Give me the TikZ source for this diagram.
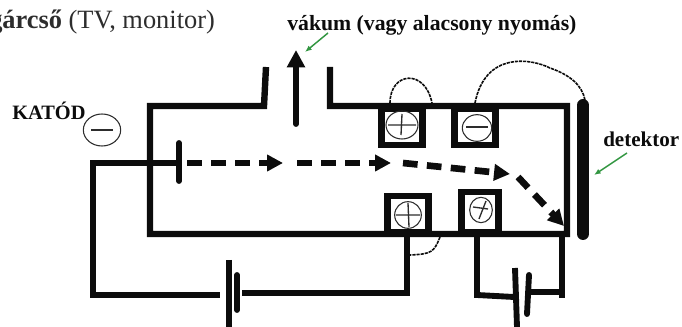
\documentclass[tikz,border=0pt]{standalone}
\usepackage{fontspec}
\setmainfont{Liberation Serif}
\usetikzlibrary{arrows.meta,shapes.geometric}
\definecolor{wgreen}{RGB}{50,150,65}
\definecolor{ink}{RGB}{12,12,12}
\definecolor{soft}{RGB}{45,45,45}
\tikzset{
  x=0.75pt,y=-0.75pt,
  wire/.style={draw=ink,line width=4.4pt,line join=miter},
  tube/.style={draw=ink,line width=4.8pt,line join=miter},
  plate/.style={draw=ink,line width=4.4pt,line cap=round},
  termbox/.style={draw=ink,line width=4.8pt,fill=white,minimum width=31pt,minimum height=27pt,inner sep=0pt,outer sep=0pt},
  sign/.style={draw=soft,line width=0.8pt,ellipse,inner sep=0pt,outer sep=0pt},
  beam/.style={draw=ink,line width=5pt,dash pattern=on 11pt off 7pt,-{Triangle[length=12pt,width=12pt,fill=ink,sep=0pt]}},
  jump/.style={draw=ink,line width=1.2pt,dash pattern=on 2.4pt off 0.7pt},
  pointer/.style={draw=wgreen,line width=1.1pt,-{Latex[length=5pt,width=4pt]}},
  lab/.style={text=ink,inner sep=0pt},
}
\begin{document}
\begin{tikzpicture}
\useasboundingbox (0,0) rectangle (682,327);
% title
\node[anchor=base west,inner sep=0pt,font=\fontsize{19.8pt}{22pt}\selectfont,text=soft] (title) at (-11,29) {\textbf{gárcső} (TV, monitor)};
\node[lab,anchor=base west,font=\bfseries\fontsize{16.3pt}{18pt}\selectfont] (vak) at (287,31) {vákum (vagy alacsony nyomás)};
\node[lab,anchor=base west,font=\bfseries\fontsize{15.3pt}{18pt}\selectfont] (kat) at (12,120) {KATÓD};
\node[lab,anchor=base west,font=\bfseries\fontsize{15.8pt}{18pt}\selectfont] (det) at (603,147) {detektor};
\node[sign,minimum width=28pt,minimum height=24pt] (katsign) at (102,130) {};
\draw[soft,line width=1pt] (katsign.center)+(-11,0) -- +(11,0);
% tube
\draw[tube] (266,67) -- (264,106) -- (150,106) -- (150,234) -- (567,234) -- (567,106) -- (330,106) -- (330,67);
% terminals
\node[termbox] (b1) at (402,127) {};
\node[termbox] (b2) at (475,127) {};
\node[termbox] (b3) at (408,214) {};
\node[termbox,minimum width=28pt,minimum height=30pt] (b4) at (480,212) {};
\node[sign,minimum width=24pt,minimum height=21pt] (s1) at (402,125) {};
\draw[soft,line width=1pt] (s1.center)+(-14,0) -- +(14,0) (s1.center)+(0,-11) -- +(-1,10);
\node[sign,minimum width=22pt,minimum height=20pt] (s2) at (477,128) {};
\draw[soft,line width=1pt] (s2.center)+(-11,-1) -- +(11,-1);
\node[sign,minimum width=20pt,minimum height=20pt] (s3) at (408,215) {};
\draw[soft,line width=1pt] (s3.center)+(-12,0) -- +(12,0) (s3.center)+(0,-12) -- +(1,12);
\node[sign,minimum width=17pt,minimum height=19pt] (s4) at (481,210) {};
\draw[soft,line width=1pt] (s4.center)+(-8,-3) -- +(7,-1) (s4.center)+(5,-9) -- +(-2,9);
% vacuum arrow
\coordinate (va) at (296,124);
\coordinate (vb) at (296,50);
\draw[draw=ink,line width=4.4pt,line cap=round,-{Triangle[length=13pt,width=13pt,fill=ink,sep=0pt]}] (va) -- (vb);
% detector
\coordinate (d1) at (583,105);
\coordinate (d2) at (583,234);
\draw[draw=ink,line width=9pt,line cap=round] (d1) -- (d2);
% cathode circuit
\coordinate (c0) at (179,163);
\coordinate (c1) at (93,163);
\coordinate (c2) at (93,295);
\coordinate (c3) at (220,295);
\coordinate (c4) at (242,293);
\coordinate (c5) at (407,293);
\coordinate (c6) at (407,234);
\draw[wire] (c0) -- (c1) -- (c2) -- (c3);
\draw[wire] (c4) -- (c5) -- (c6);
\draw[plate] (179,143) -- (179,181);
\draw[plate,line cap=butt] (229,260) -- (229,327);
\draw[plate] (237,275) -- (237,310);
% deflection circuit
\coordinate (e1) at (477,234);
\coordinate (e2) at (477,295);
\coordinate (e3) at (514,297);
\coordinate (e4) at (530,292);
\coordinate (e5) at (562,292);
\coordinate (e6) at (562,234);
\draw[wire] (e1) -- (e2) -- (e3);
\draw[wire] (e4) -- (e5);
\draw[wire] (e5)+(0,6) -- (e6);
\draw[plate,line cap=butt] (515,268) -- (517,327);
\draw[plate] (529,275) -- (527,314);
% beam
\coordinate (p1) at (187,163);
\coordinate (p2) at (283,163);
\coordinate (p3) at (297,163);
\coordinate (p4) at (391,163);
\coordinate (p5) at (403,163);
\coordinate (p6) at (510,174);
\coordinate (p7) at (518,177);
\coordinate (p8) at (564,226);
\draw[beam] (p1) -- (p2);
\draw[beam] (p3) -- (p4);
\draw[beam] (p5) -- (p6);
\draw[beam] (p7) -- (p8);
% jumpers
\draw[jump] (390,103) .. controls (390,72) and (425,68) .. (432,103);
\draw[jump] (475,103) .. controls (485,52) and (530,58) .. (550,68) .. controls (570,75) and (582,85) .. (585,100);
\draw[jump] (440,237) .. controls (434,252) and (432,254) .. (410,255);
% pointers
\coordinate (g1) at (328,33);
\coordinate (g2) at (305,52);
\coordinate (g3) at (627,153);
\coordinate (g4) at (594,175);
\draw[pointer] (g1) -- (g2);
\draw[pointer] (g3) -- (g4);
\end{tikzpicture}
\end{document}
